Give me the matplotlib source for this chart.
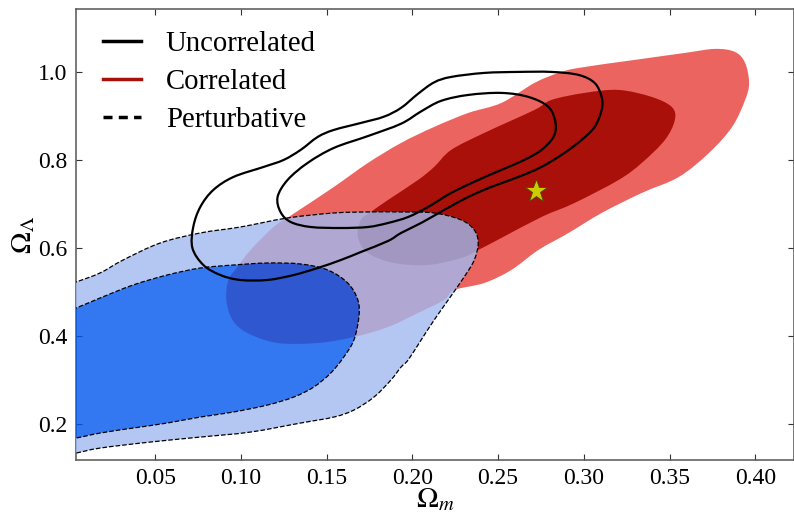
import numpy as np
import matplotlib
matplotlib.use("Agg")
import matplotlib.pyplot as plt
from matplotlib.path import Path
from matplotlib.patches import PathPatch
from matplotlib.lines import Line2D

plt.rcParams["font.family"] = ["Liberation Serif", "DejaVu Serif"]
plt.rcParams["mathtext.fontset"] = "stix"

# contour outlines, (Omega_m, Omega_Lambda)
red_outer = [
    (0.0915, 0.4825), (0.0951, 0.4370), (0.1038, 0.4075), (0.1214, 0.3848), (0.1448, 0.3848),
    (0.1659, 0.3984), (0.1858, 0.4211), (0.2033, 0.4530), (0.2185, 0.4825), (0.2244, 0.5052),
    (0.2419, 0.5211), (0.2577, 0.5507), (0.2735, 0.5961), (0.2911, 0.6348), (0.3104, 0.6802),
    (0.3338, 0.7257), (0.3554, 0.7620), (0.3730, 0.8166), (0.3865, 0.8757), (0.3941, 0.9370),
    (0.3964, 0.9757), (0.3941, 1.0211), (0.3882, 1.0461), (0.3765, 1.0530), (0.3590, 1.0439),
    (0.3297, 1.0280), (0.2969, 1.0098), (0.2852, 0.9984), (0.2712, 0.9757), (0.2519, 0.9302),
    (0.2326, 0.9075), (0.2127, 0.8757), (0.1934, 0.8393), (0.1741, 0.7939), (0.1542, 0.7393),
    (0.1348, 0.6890), (0.1278, 0.6711), (0.1190, 0.6484), (0.1056, 0.5961), (0.0980, 0.5575),
    (0.0927, 0.5280),
]
red_inner = [
    (0.1682, 0.6257), (0.1700, 0.6643), (0.1758, 0.6825), (0.1858, 0.7098), (0.2033, 0.7552),
    (0.2127, 0.7848), (0.2226, 0.8234), (0.2419, 0.8620), (0.2712, 0.9143), (0.2811, 0.9370),
    (0.3004, 0.9530), (0.3203, 0.9598), (0.3396, 0.9439), (0.3513, 0.9211), (0.3531, 0.8916),
    (0.3473, 0.8461), (0.3338, 0.7939), (0.3203, 0.7552), (0.2946, 0.7030), (0.2753, 0.6711),
    (0.2519, 0.6234), (0.2384, 0.5961), (0.2285, 0.5780), (0.2092, 0.5620), (0.1893, 0.5666),
    (0.1741, 0.5893),
]
blue_outer = [
    (-0.0056, 0.5120), (0.0038, 0.5234), (0.0178, 0.5439), (0.0313, 0.5734), (0.0529, 0.6120),
    (0.0763, 0.6348), (0.0997, 0.6484), (0.1272, 0.6689), (0.1542, 0.6802), (0.1741, 0.6825),
    (0.1934, 0.6825), (0.2127, 0.6802), (0.2285, 0.6643), (0.2361, 0.6416), (0.2384, 0.6120),
    (0.2361, 0.5734), (0.2302, 0.5348), (0.2209, 0.4825), (0.2127, 0.4370), (0.2051, 0.3916),
    (0.1975, 0.3461), (0.1934, 0.3302), (0.1875, 0.3007), (0.1776, 0.2620), (0.1659, 0.2325),
    (0.1542, 0.2166), (0.1348, 0.2030), (0.1056, 0.1825), (0.0763, 0.1711), (0.0471, 0.1598),
    (0.0178, 0.1461), (0.0038, 0.1348), (-0.0056, 0.1302),
]
blue_inner = [
    (-0.0056, 0.4530), (0.0038, 0.4643), (0.0178, 0.4870), (0.0371, 0.5166), (0.0570, 0.5393),
    (0.0763, 0.5552), (0.0956, 0.5620), (0.1155, 0.5666), (0.1348, 0.5643), (0.1506, 0.5507),
    (0.1623, 0.5211), (0.1682, 0.4825), (0.1688, 0.4439), (0.1659, 0.3916), (0.1600, 0.3530),
    (0.1524, 0.3166), (0.1425, 0.2848), (0.1308, 0.2620), (0.1155, 0.2439), (0.0956, 0.2280),
    (0.0763, 0.2166), (0.0570, 0.2030), (0.0371, 0.1916), (0.0178, 0.1802), (0.0038, 0.1689),
    (-0.0056, 0.1643),
]
black_outer = [
    (0.0717, 0.6007), (0.0722, 0.6484), (0.0763, 0.6939), (0.0839, 0.7325), (0.0956, 0.7620),
    (0.1132, 0.7848), (0.1249, 0.8007), (0.1348, 0.8234), (0.1448, 0.8530), (0.1542, 0.8689),
    (0.1700, 0.8848), (0.1834, 0.8990), (0.1934, 0.9190), (0.2033, 0.9510), (0.2127, 0.9770),
    (0.2226, 0.9893), (0.2419, 0.9984), (0.2618, 1.0007), (0.2811, 1.0007), (0.2969, 0.9939),
    (0.3063, 0.9757), (0.3104, 0.9439), (0.3104, 0.9143), (0.3063, 0.8757), (0.2987, 0.8461),
    (0.2887, 0.8166), (0.2753, 0.7848), (0.2618, 0.7620), (0.2460, 0.7393), (0.2326, 0.7166),
    (0.2185, 0.6870), (0.2051, 0.6575), (0.1934, 0.6348), (0.1858, 0.6166), (0.1700, 0.5916),
    (0.1583, 0.5734), (0.1448, 0.5552), (0.1308, 0.5393), (0.1155, 0.5280), (0.0997, 0.5280),
    (0.0880, 0.5393), (0.0781, 0.5620),
]
black_inner = [
    (0.1214, 0.7166), (0.1272, 0.7552), (0.1389, 0.7939), (0.1542, 0.8280), (0.1741, 0.8550),
    (0.1934, 0.8830), (0.2051, 0.9110), (0.2168, 0.9350), (0.2326, 0.9484), (0.2519, 0.9530),
    (0.2677, 0.9439), (0.2794, 0.9211), (0.2835, 0.8848), (0.2823, 0.8530), (0.2753, 0.8234),
    (0.2653, 0.8007), (0.2519, 0.7780), (0.2384, 0.7552), (0.2226, 0.7257), (0.2092, 0.6939),
    (0.1975, 0.6711), (0.1858, 0.6575), (0.1741, 0.6484), (0.1583, 0.6461), (0.1407, 0.6484),
    (0.1290, 0.6598), (0.1231, 0.6825),
]
fiducial = (0.272, 0.730)

x_ticks = [0.05, 0.10, 0.15, 0.20, 0.25, 0.30, 0.35, 0.40]
y_ticks = [0.2, 0.4, 0.6, 0.8, 1.0]
legend_labels = ["Uncorrelated", "Correlated", "Perturbative"]

LIGHT_RED = "#EC6460"
DARK_RED = "#AA100A"
LIGHT_BLUE = "#A1BAEF"
DARK_BLUE = "#0056ED"
BLUE_ALPHA = 0.8


def oriented(points, ccw=True):
    arr = np.asarray(points, dtype=float)
    x, y = arr[:, 0], arr[:, 1]
    area = 0.5 * np.sum(x * np.roll(y, -1) - np.roll(x, -1) * y)
    if (area > 0) != ccw:
        arr = arr[::-1]
    return arr


def smooth_path(points, closed=True):
    # cubic bezier through the read points (catmull-rom tangents)
    p = np.asarray(points, dtype=float)
    n = len(p)
    if closed:
        tang = (np.roll(p, -1, axis=0) - np.roll(p, 1, axis=0)) / 6.0
        pairs = [(k, (k + 1) % n) for k in range(n)]
    else:
        tang = np.empty_like(p)
        tang[1:-1] = (p[2:] - p[:-2]) / 6.0
        tang[0] = (p[1] - p[0]) / 3.0
        tang[-1] = (p[-1] - p[-2]) / 3.0
        pairs = [(k, k + 1) for k in range(n - 1)]
    verts = [p[0]]
    codes = [Path.MOVETO]
    for a, b in pairs:
        verts += [p[a] + tang[a], p[b] - tang[b], p[b]]
        codes += [Path.CURVE4] * 3
    if closed:
        verts.append(p[0])
        codes.append(Path.CLOSEPOLY)
    return Path(np.array(verts), codes)


fig = plt.figure(figsize=(7.94, 5.13), dpi=100)
ax = fig.add_axes([0.0957, 0.1033, 0.9043, 0.8786])

ax.add_patch(PathPatch(smooth_path(red_outer), facecolor=LIGHT_RED, edgecolor="none", zorder=1))
ax.add_patch(PathPatch(smooth_path(red_inner), facecolor=DARK_RED, edgecolor="none", zorder=2))

# blue outer band has the inner region cut out, so the two alpha layers do not stack
blue_band = Path.make_compound_path(smooth_path(oriented(blue_outer, True)),
                                    smooth_path(oriented(blue_inner, False)))
ax.add_patch(PathPatch(blue_band, facecolor=LIGHT_BLUE, edgecolor="none",
                       alpha=BLUE_ALPHA, zorder=3))
ax.add_patch(PathPatch(smooth_path(blue_inner), facecolor=DARK_BLUE, edgecolor="none",
                       alpha=BLUE_ALPHA, zorder=3))
for outline in (blue_outer, blue_inner):
    ax.add_patch(PathPatch(smooth_path(outline, closed=False), fill=False,
                           edgecolor="black", lw=0.9, ls="--", zorder=4))

for outline in (black_outer, black_inner):
    ax.add_patch(PathPatch(smooth_path(outline), fill=False, edgecolor="black",
                           lw=1.6, zorder=5))

ax.plot([fiducial[0]], [fiducial[1]], marker="*", ms=17, color="#CCCC00",
        markeredgecolor="#4A4A00", markeredgewidth=0.6, zorder=6)

ax.set_xlim(0.0038, 0.4226)
ax.set_ylim(0.119, 1.143)
ax.set_xticks(x_ticks)
ax.set_yticks(y_ticks)
ax.set_xticklabels([f"{t:.2f}" for t in x_ticks])
ax.set_yticklabels([f"{t:.1f}" for t in y_ticks])
ax.tick_params(direction="in", top=True, right=True, length=4.5, width=0.8,
               labelsize=17, colors="#333333", labelcolor="black", pad=6)
for spine in ax.spines.values():
    spine.set_color("#555555")
    spine.set_linewidth(1.1)

ax.set_xlabel(r"$\Omega_m$", fontsize=21, labelpad=-2)
ax.set_ylabel(r"$\Omega_\Lambda$", fontsize=21, labelpad=1)

handles = [
    Line2D([], [], color="black", lw=2.5),
    Line2D([], [], color=DARK_RED, lw=2.5),
    Line2D([], [], color="black", lw=2.5, ls=(0, (2.6, 1.8))),
]
ax.legend(handles, legend_labels, loc="upper left", bbox_to_anchor=(0.037, 0.952),
          frameon=False, fontsize=20.7, handlelength=1.35, handletextpad=0.85,
          labelspacing=0.42, borderpad=0, borderaxespad=0)

fig.savefig("out.png", dpi=100)
